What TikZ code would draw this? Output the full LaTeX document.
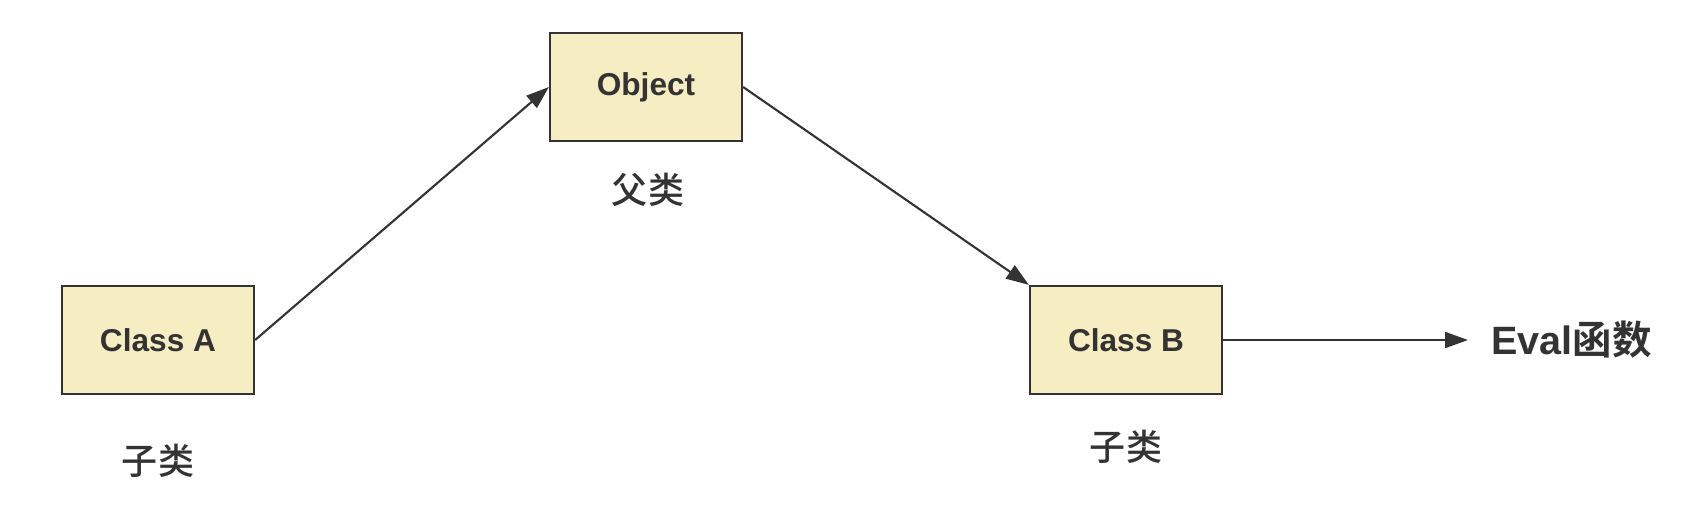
\documentclass[tikz,border=0pt]{standalone}
\usepackage{fontspec}
\setmainfont{Liberation Sans}
\newfontfamily\cjk{Noto Sans CJK SC}[BoldFont={Noto Sans CJK SC Bold}]
\newfontfamily\cjkmed{Noto Sans CJK SC Medium}
\usetikzlibrary{positioning, arrows.meta}
\definecolor{boxfill}{HTML}{F6EDC3}
\definecolor{linegray}{HTML}{333333}

\begin{document}
\begin{tikzpicture}[x=0.02cm, y=-0.02cm]
	% styles
	\tikzset{
		classbox/.style={
			rectangle, draw=linegray, fill=boxfill, line width=1.3pt,
			minimum width=3.84cm, minimum height=2.16cm,
			text=linegray, font=\fontsize{18}{20}\selectfont\bfseries
		},
		tag/.style={
			text=linegray, font=\cjkmed\fontsize{20.5}{22}\selectfont
		},
		link/.style={
			draw=linegray, line width=1.2pt,
			-{Triangle[length=13pt, width=9pt]}
		}
	}
	\useasboundingbox (0,0) rectangle (1690,522);

	% boxes
	\node[classbox] (object) at (646,87) {Object};
	\node[classbox] (classA) at (158,340) {Class A};
	\node[classbox] (classB) at (1126,340) {Class B};

	% labels below the boxes
	\node[tag] (parent) at (648,190) {父类};
	\node[tag] (childA) at (158,461) {子类};
	\node[tag] (childB) at (1126,447) {子类};

	% target text
	\node[anchor=west, inner xsep=0.46cm, text=linegray,
		font=\fontsize{22.5}{25}\selectfont\bfseries] (eval) at (1468,340) {Eval{\cjk 函数}};

	% arrows
	\draw[link] (classA.east) -- (object.west);
	\draw[link] (object.east) -- (classB.north west);
	\draw[link] (classB.east) -- (eval.west);
\end{tikzpicture}
\end{document}
